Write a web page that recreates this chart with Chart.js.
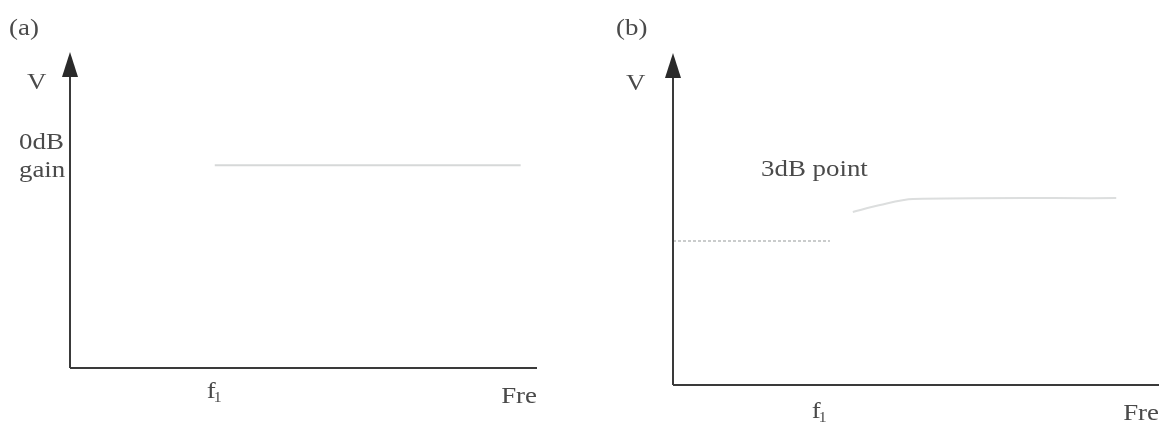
<!DOCTYPE html>
<html>
<head>
<meta charset="utf-8">
<script src="https://cdn.jsdelivr.net/npm/chart.js@4.4.1/dist/chart.umd.min.js"></script>
<style>
  html,body{margin:0;padding:0;background:#fff;}
  #wrap{position:relative;width:1164px;height:425px;background:#fff;}
  .pane{position:absolute;top:0;height:425px;}
</style>
</head>
<body>
<div id="wrap">
  <div class="pane" style="left:0;width:580px;"><canvas id="ca" width="580" height="425"></canvas></div>
  <div class="pane" style="left:580px;width:584px;"><canvas id="cb" width="584" height="425"></canvas></div>
</div>
<script>
// ---- data (axis units: frequency 0..10, voltage 0..10) ----
const panelLabels = ["(a)", "(b)"];
const yAxisLabel = "V";
const xAxisLabel = "Fre";
const cutoffLabel = "f";
const cutoffSub = "1";
const gainLabelLines = ["0dB", "gain"];
const pointLabel = "3dB point";

const cutoffA = 3.1;
const cutoffB = 3.02;

const aFreq = [3.1, 9.65];
const aGain = [6.42, 6.42];

const bLowFreq = [0, 3.23];
const bLowV = [4.34, 4.34];

const bRiseFreq = [3.7, 4.26, 4.94, 9.12];
const bRiseV = [5.21, 5.42, 5.6, 5.63];

function pts(xs, ys){ return xs.map((x,i)=>({x:x, y:ys[i]})); }

const FONT = '24px "Liberation Serif", "DejaVu Serif", serif';
const TXT = '#4a4a4a';
const STRETCH = 1.12;

function txt(c, t, x, y, align){
  c.save();
  c.translate(x, y);
  c.scale(STRETCH, 1);
  c.textAlign = align || 'left';
  c.fillText(t, 0, 0);
  c.restore();
}

function axesPlugin(cfg){
  return {
    id: 'axesDraw',
    afterDraw(chart){
      const c = chart.ctx, xs = chart.scales.x, ys = chart.scales.y;
      const x0 = xs.getPixelForValue(0), xEnd = xs.getPixelForValue(10);
      const y0 = ys.getPixelForValue(0), yTop = ys.getPixelForValue(10);
      c.save();
      c.strokeStyle = '#3a3a3a';
      c.lineWidth = 2;
      c.beginPath();
      c.moveTo(x0, y0); c.lineTo(xEnd, y0);
      c.moveTo(x0, y0); c.lineTo(x0, yTop + 22);
      c.stroke();
      c.fillStyle = '#2a2a2a';
      c.beginPath();
      c.moveTo(x0, yTop);
      c.lineTo(x0 - 8, yTop + 25);
      c.lineTo(x0 + 8, yTop + 25);
      c.closePath();
      c.fill();

      c.fillStyle = TXT;
      c.font = FONT;
      c.textBaseline = 'alphabetic';
      txt(c, cfg.panel, cfg.panelX, 35);
      txt(c, yAxisLabel, cfg.vX, cfg.vY);
      txt(c, xAxisLabel, xEnd, cfg.freY, 'right');
      const fx = xs.getPixelForValue(cfg.cutoff);
      txt(c, cutoffLabel, fx - 8, cfg.fY);
      c.font = '14px "Liberation Serif", serif';
      txt(c, cutoffSub, fx - 1, cfg.fY + 4);
      c.font = FONT;
      if (cfg.extra) cfg.extra(c, xs, ys);
      c.restore();
    }
  };
}

function baseOptions(pad){
  return {
    responsive: false,
    animation: false,
    layout: { padding: pad },
    plugins: { legend: {display:false}, tooltip: {enabled:false} },
    scales: {
      x: { type:'linear', min:0, max:10, display:false },
      y: { type:'linear', min:0, max:10, display:false }
    },
    elements: { point: { radius: 0 } }
  };
}

new Chart(document.getElementById('ca'), {
  type: 'line',
  data: { datasets: [
    { data: pts(aFreq, aGain), borderColor: '#d6d8d8', borderWidth: 2, fill:false, tension:0 }
  ]},
  options: baseOptions({left:70, right:43, top:52, bottom:57}),
  plugins: [axesPlugin({
    panel: panelLabels[0], panelX: 9, vX: 27, vY: 89, freY: 403, fY: 398, cutoff: cutoffA,
    extra(c){
      txt(c, gainLabelLines[0], 19, 149);
      txt(c, gainLabelLines[1], 19, 177);
    }
  })]
});

new Chart(document.getElementById('cb'), {
  type: 'line',
  data: { datasets: [
    { data: pts(bLowFreq, bLowV), borderColor: '#b9bcbc', borderWidth: 1.5, borderDash:[3,2], fill:false, tension:0 },
    { data: pts(bRiseFreq, bRiseV), borderColor: '#dcdede', borderWidth: 2, fill:false, tension:0.3 }
  ]},
  options: baseOptions({left:93, right:5, top:53, bottom:40}),
  plugins: [axesPlugin({
    panel: panelLabels[1], panelX: 36, vX: 46, vY: 90, freY: 420, fY: 418, cutoff: cutoffB,
    extra(c){
      txt(c, pointLabel, 181, 176);
    }
  })]
});
</script>
</body>
</html>
